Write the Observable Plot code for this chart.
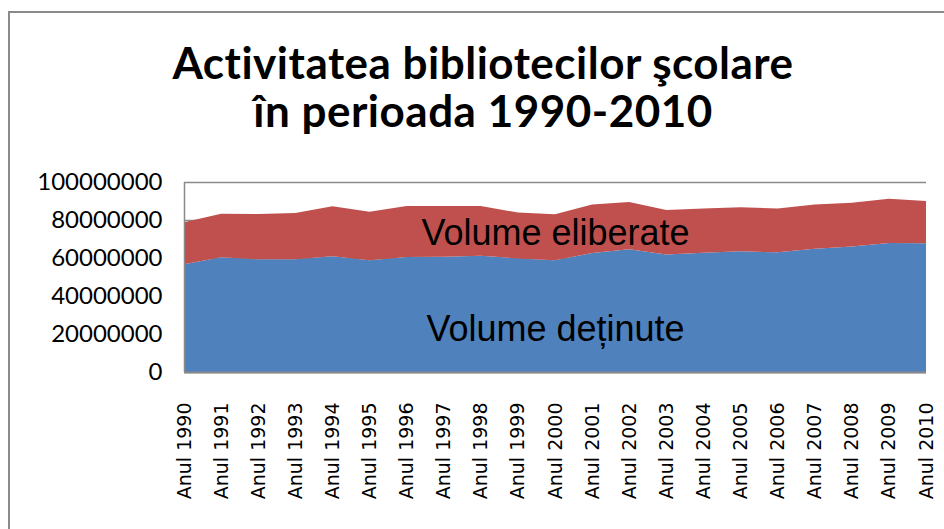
<!DOCTYPE html>
<html>
<head>
<meta charset="utf-8">
<script src="https://cdn.jsdelivr.net/npm/d3@7"></script>
<script src="https://cdn.jsdelivr.net/npm/@observablehq/plot@0.6"></script>
<style>
  html, body { margin: 0; padding: 0; background: #fff; overflow: hidden; }
  #wrap { position: relative; width: 944px; height: 529px; overflow: hidden; }
  #frame { position: absolute; left: 8px; top: 11px; width: 1000px; height: 1000px; border: 2px solid #8a8a8a; box-sizing: border-box; }
  #title { position: absolute; left: 0; top: 38px; width: 966px; text-align: center;
           font-family: Lato, "Open Sans", sans-serif; font-weight: 700; font-size: 44px; line-height: 48px;
           letter-spacing: 0.5px; color: #000; }
  #chart { position: absolute; left: 0; top: 0; }
</style>
</head>
<body>
<div id="wrap">
  <div id="frame"></div>
  <div id="chart"></div>
  <div id="title">Activitatea bibliotecilor şcolare<br>în perioada 1990-2010</div>
</div>
<script>
const years = [1990,1991,1992,1993,1994,1995,1996,1997,1998,1999,2000,2001,2002,2003,2004,2005,2006,2007,2008,2009,2010];
const yearLabels = ["Anul 1990","Anul 1991","Anul 1992","Anul 1993","Anul 1994","Anul 1995","Anul 1996","Anul 1997","Anul 1998","Anul 1999","Anul 2000","Anul 2001","Anul 2002","Anul 2003","Anul 2004","Anul 2005","Anul 2006","Anul 2007","Anul 2008","Anul 2009","Anul 2010"];
const seriesNames = ["Volume deținute", "Volume eliberate"];
const volumeDetinute = [56700000,60400000,59300000,59300000,60900000,58800000,60500000,60700000,61200000,59800000,58800000,62600000,64600000,61900000,62800000,63500000,63000000,64900000,66100000,67900000,67700000];
const volumeEliberate = [22100000,22900000,23900000,24400000,26300000,25600000,26900000,26700000,26200000,24100000,24200000,25600000,24900000,23400000,23300000,23200000,23000000,23200000,23000000,23300000,22300000];
const yTicks = [0,20000000,40000000,60000000,80000000,100000000];
const seriesColors = ["#4F81BD", "#C0504D"];
// label anchors in data space (year, value)
const labelYears = [2000, 2000];
const labelValues = [22900000, 73400000];

const data = [];
years.forEach((y, i) => data.push({year: y, series: seriesNames[0], value: volumeDetinute[i]}));
years.forEach((y, i) => data.push({year: y, series: seriesNames[1], value: volumeEliberate[i]}));
const labels = seriesNames.map((s, i) => ({year: labelYears[i], value: labelValues[i], text: s}));

const chart = Plot.plot({
  width: 944,
  height: 529,
  marginLeft: 184,
  marginRight: 18,
  marginTop: 182,
  marginBottom: 157,
  style: {background: "transparent", color: "#000", overflow: "visible"},
  x: {type: "linear", domain: [1990, 2010]},
  y: {domain: [0, 100000000]},
  color: {domain: seriesNames, range: seriesColors},
  marks: [
    Plot.gridY(yTicks, {stroke: "#8a8a8a", strokeOpacity: 1, strokeWidth: 1.5}),
    Plot.areaY(data, {x: "year", y: "value", fill: "series"}),
    Plot.ruleY([0], {stroke: "#8a8a8a", strokeWidth: 2}),
    Plot.ruleX([1990], {stroke: "#8a8a8a", strokeWidth: 1.5}),
    Plot.axisY(yTicks, {tickSize: 0, tickPadding: 22, tickFormat: d => String(d), fontSize: 24, fontFamily: "Lato, 'Open Sans', sans-serif", label: null}),
    Plot.axisX(years, {tickSize: 0, tickPadding: 30, tickRotate: -90, tickFormat: d => yearLabels[years.indexOf(d)], fontSize: 19, fontFamily: "'DejaVu Sans', sans-serif", label: null}),
    Plot.text(labels, {x: "year", y: "value", text: "text", fontSize: 36, fontFamily: "'Liberation Sans', Arial, sans-serif", fill: "#000", textAnchor: "middle"})
  ]
});
document.getElementById("chart").appendChild(chart);
</script>
</body>
</html>
